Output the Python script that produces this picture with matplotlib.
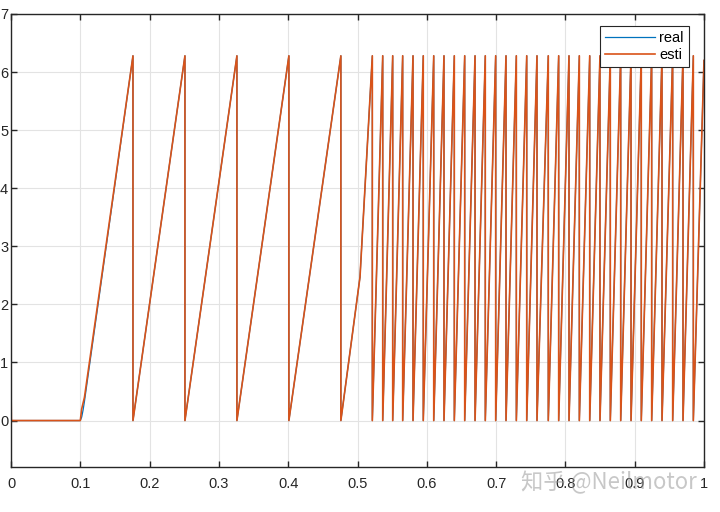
import matplotlib
matplotlib.use("Agg")
import matplotlib.pyplot as plt

# wrap times (peaks) of the angle, seconds
start_t = 0.1
peak_t = [0.176, 0.251, 0.326, 0.401, 0.476,
          0.5214, 0.5364, 0.5508, 0.5652, 0.5801, 0.5949, 0.6100, 0.6248,
          0.6397, 0.6547, 0.6696, 0.6844, 0.6994, 0.7143, 0.7292, 0.7442,
          0.7590, 0.7753, 0.7903, 0.8052, 0.8201, 0.8351, 0.8499, 0.8648,
          0.8798, 0.8947, 0.9095, 0.9245, 0.9394, 0.9548, 0.9697, 0.9846]
peak_val = 6.28
end_t, end_val = 1.0, 6.2
# knee on the ramp after 0.476 (speed change)
knee_t, knee_val = 0.5036, 2.47

# start of each signal: (t, value)
real_start = [(0.0, 0.0), (0.1, 0.0), (0.102, 0.06), (0.104, 0.18), (0.106, 0.33)]
esti_start = [(0.0, 0.65), (0.0005, 0.0), (0.1, 0.0), (0.102, 0.2), (0.104, 0.3), (0.106, 0.4)]


def build(start_pts):
    t = [p[0] for p in start_pts]
    y = [p[1] for p in start_pts]
    for i, tp in enumerate(peak_t):
        if i > 0:
            t.append(peak_t[i - 1])
            y.append(0.0)
        if i == 5:
            t.append(knee_t)
            y.append(knee_val)
        t.append(tp)
        y.append(peak_val)
    t += [peak_t[-1], end_t]
    y += [0.0, end_val]
    return t, y


real_t, real_y = build(real_start)
esti_t, esti_y = build(esti_start)

plt.rcParams['font.family'] = ['Liberation Sans', 'DejaVu Sans']
fig = plt.figure(figsize=(7.2, 5.12), dpi=100)
ax = fig.add_axes([11 / 720, 45 / 512, 693 / 720, 453 / 512])

ax.plot(real_t, real_y, color='#0072BD', linewidth=0.9, label='real')
ax.plot(esti_t, esti_y, color='#D95319', linewidth=1.2, label='esti')

ax.set_xlim(0, 1)
ax.set_ylim(-0.8, 7)
ax.set_xticks([0, 0.1, 0.2, 0.3, 0.4, 0.5, 0.6, 0.7, 0.8, 0.9, 1])
ax.set_xticklabels(['0', '0.1', '0.2', '0.3', '0.4', '0.5', '0.6', '0.7', '0.8', '0.9', '1'])
ax.set_yticks(range(0, 8))
ax.grid(True, color='#e3e3e3', linewidth=0.8)
ax.set_axisbelow(True)
ax.tick_params(direction='in', length=4, width=1, colors='#262626',
               top=True, right=True, labelsize=10.5)
ax.tick_params(axis='x', pad=7)
ax.tick_params(axis='y', pad=2)
for s in ax.spines.values():
    s.set_color('#262626')
    s.set_linewidth(1)

leg = ax.legend(loc='upper right', bbox_to_anchor=(0.978, 0.9735), borderaxespad=0,
                fontsize=10.5, fancybox=False, framealpha=1, edgecolor='#262626',
                handlelength=3.4, borderpad=0.35, labelspacing=0.2, handletextpad=0.3)
leg.get_frame().set_linewidth(0.8)

fig.text(0.845, 0.058, '知乎 @Neilmotor', fontsize=16, color='#9a9a9a', alpha=0.55,
         ha='center', va='center', family=['Noto Sans CJK SC', 'DejaVu Sans'])

fig.savefig('out.png', dpi=100)
